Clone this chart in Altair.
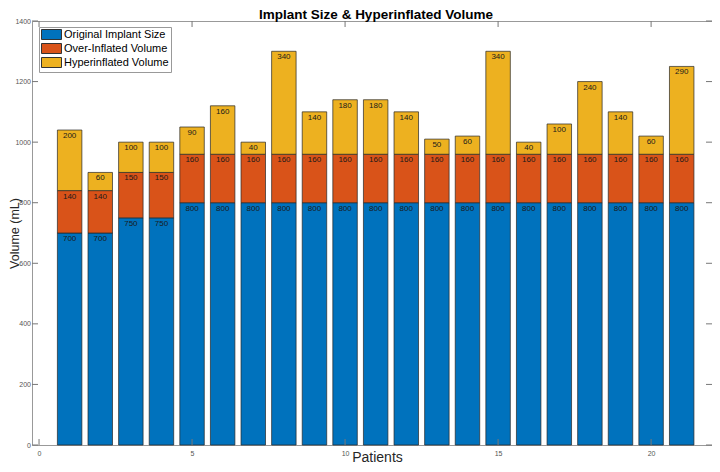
import altair as alt
import pandas as pd

patients = [1, 2, 3, 4, 5, 6, 7, 8, 9, 10, 11, 12, 13, 14, 15, 16, 17, 18, 19, 20, 21]
original = [700, 700, 750, 750, 800, 800, 800, 800, 800, 800, 800, 800, 800, 800, 800, 800, 800, 800, 800, 800, 800]
over_inflated = [140, 140, 150, 150, 160, 160, 160, 160, 160, 160, 160, 160, 160, 160, 160, 160, 160, 160, 160, 160, 160]
hyperinflated = [200, 60, 100, 100, 90, 160, 40, 340, 140, 180, 180, 140, 50, 60, 340, 40, 100, 240, 140, 60, 290]
series_names = ["Original Implant Size", "Over-Inflated Volume", "Hyperinflated Volume"]
series_colors = ["#0072BD", "#D95319", "#EDB120"]
x_ticks = [0, 5, 10, 15, 20]
y_ticks = [0, 200, 400, 600, 800, 1000, 1200, 1400]

rows = []
for i, p in enumerate(patients):
    base = 0
    for name, vals in zip(series_names, [original, over_inflated, hyperinflated]):
        v = vals[i]
        rows.append({"patient": p, "series": name, "value": v,
                     "y0": base, "y1": base + v})
        base += v
df = pd.DataFrame(rows)

W, H = 680, 424
FONT = "Liberation Sans"
xscale = alt.Scale(domain=[-0.23, 21.99], nice=False, zero=False)
yscale = alt.Scale(domain=[0, 1400], nice=False)

x_axis = alt.Axis(values=x_ticks, title="Patients", labelPadding=4, titleFontSize=14,
                  titleFontWeight="normal", titleColor="#262626", titleFont=FONT,
                  titleBaseline="bottom", titleY=19, titleX=345, titleAlign="center",
                  grid=False, ticks=False, domain=False)
y_axis = alt.Axis(values=y_ticks, format="d", title="Volume (mL)", labelPadding=1.5,
                  titleFontSize=12.5, titleFontWeight="normal", titleColor="#262626",
                  titleFont=FONT, titleX=-24, titleY=H / 2, titleBaseline="top",
                  titleAlign="center", titleAngle=270, grid=False, ticks=False, domain=False)

bars = alt.Chart(df).transform_calculate(
    xa="datum.patient - 0.4", xb="datum.patient + 0.4"
).mark_bar(stroke="#262626", strokeWidth=0.7).encode(
    x=alt.X("xa:Q", scale=xscale, axis=x_axis),
    x2="xb:Q",
    y=alt.Y("y0:Q", scale=yscale, axis=y_axis),
    y2="y1:Q",
    color=alt.Color("series:N",
                    scale=alt.Scale(domain=series_names, range=series_colors),
                    sort=series_names,
                    legend=alt.Legend(title=None, orient="none", legendX=7, legendY=6,
                                      strokeColor="#999999", fillColor="white", padding=2,
                                      symbolType="M-1,-1H3V1H-1Z", symbolSize=100,
                                      symbolStrokeColor="#333333", symbolStrokeWidth=1,
                                      symbolOpacity=1, labelFont=FONT, labelFontSize=11,
                                      labelColor="#000000", rowPadding=-1, labelOffset=12,
                                      cornerRadius=0)),
)

labels = alt.Chart(df).mark_text(dy=6, fontSize=8, font=FONT, color="#1a1a1a").encode(
    x=alt.X("patient:Q", scale=xscale, axis=x_axis),
    y=alt.Y("y1:Q", scale=yscale, axis=y_axis),
    text="value:Q",
)

tick_color = "#777777"
xt = pd.DataFrame({"t": x_ticks})
yt = pd.DataFrame({"t": y_ticks})
xticks_bottom = alt.Chart(xt).mark_rule(color=tick_color, strokeWidth=1).encode(
    x=alt.X("t:Q", scale=xscale, axis=x_axis), y=alt.value(H), y2=alt.value(H - 6))
xticks_top = alt.Chart(xt).mark_rule(color=tick_color, strokeWidth=1).encode(
    x=alt.X("t:Q", scale=xscale, axis=x_axis), y=alt.value(0), y2=alt.value(6))
yticks_left = alt.Chart(yt).mark_rule(color=tick_color, strokeWidth=1).encode(
    y=alt.Y("t:Q", scale=yscale, axis=y_axis), x=alt.value(0), x2=alt.value(6))
yticks_right = alt.Chart(yt).mark_rule(color=tick_color, strokeWidth=1).encode(
    y=alt.Y("t:Q", scale=yscale, axis=y_axis), x=alt.value(W - 6), x2=alt.value(W))

chart = alt.layer(bars, labels, xticks_bottom, xticks_top, yticks_left, yticks_right).properties(
    width=W, height=H,
    background="white",
    autosize=alt.AutoSizeParams(type="none"),
    padding={"left": 24, "top": 13, "right": 0, "bottom": 19},
    title=alt.TitleParams("Implant Size & Hyperinflated Volume", fontSize=13.5, font=FONT,
                          fontWeight="bold", color="#000000", anchor="middle", offset=0,
                          dy=4, dx=4, frame="group"),
).configure_view(stroke="#999999", strokeWidth=1).configure_axis(
    domain=False, ticks=False, grid=False, labelFont=FONT, labelFontSize=7, labelColor="#555555"
)

chart.save("out.html", embed_options={"renderer": "svg", "actions": False})
